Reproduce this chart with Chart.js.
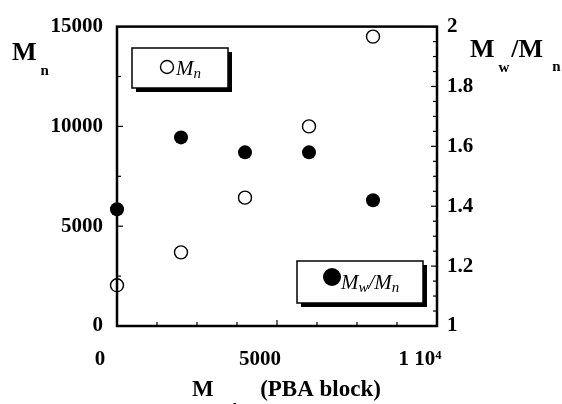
<!DOCTYPE html>
<html>
<head>
<meta charset="utf-8">
<script src="https://cdn.jsdelivr.net/npm/chart.js@4"></script>
<style>
  html, body { margin: 0; padding: 0; background: #fff; }
  #wrap { width: 562px; height: 404px; }
</style>
</head>
<body>
<div id="wrap"><canvas id="chart" width="562" height="404"></canvas></div>
<script>
// theoretical Mn of the PBA block (x axis)
const mnTheory = [0, 2000, 4000, 6000, 8000];
// measured Mn, left axis
const mnMeasured = [2040, 3690, 6430, 10000, 14500];
// Mw/Mn, right axis
const pdi = [1.39, 1.63, 1.58, 1.58, 1.42];

const xTickValues = [0, 5000, 10000];
const xTickLabels = ['0', '5000', '1 10\u2074'];
const yTickValues = [0, 5000, 10000, 15000];
const yTickLabels = ['0', '5000', '10000', '15000'];
const y1TickValues = [1, 1.2, 1.4, 1.6, 1.8, 2];
const y1TickLabels = ['1', '1.2', '1.4', '1.6', '1.8', '2'];

const SERIF = '"Liberation Serif", "Times New Roman", serif';
const tickFont = { family: SERIF, size: 21, weight: 'bold' };

function labelFor(values, labels, v) {
  const i = values.findIndex(t => Math.abs(t - v) < 1e-6);
  return i < 0 ? '' : labels[i];
}

// draw runs of text; each part: [text, font, dx, dy]
function drawParts(ctx, x, y, parts) {
  let cx = x;
  parts.forEach(p => {
    ctx.font = p[1];
    ctx.fillText(p[0], cx + (p[2] || 0), y + (p[3] || 0));
    cx += ctx.measureText(p[0]).width + (p[2] || 0);
  });
}

const framePlugin = {
  id: 'frame',
  beforeDatasetsDraw(chart) {
    const ctx = chart.ctx;
    const a = chart.chartArea;
    ctx.save();
    ctx.strokeStyle = '#000';
    ctx.lineWidth = 2.5;
    ctx.strokeRect(a.left, a.top, a.right - a.left, a.bottom - a.top);

    // inward tick marks
    ctx.lineWidth = 1.2;
    const sx = chart.scales.x, sy = chart.scales.y, sy1 = chart.scales.y1;
    sx.ticks.forEach(t => {
      const px = sx.getPixelForValue(t.value);
      const len = labelFor(xTickValues, xTickLabels, t.value) ? 6 : 4;
      ctx.beginPath(); ctx.moveTo(px, a.bottom); ctx.lineTo(px, a.bottom - len); ctx.stroke();
    });
    sy.ticks.forEach(t => {
      const py = sy.getPixelForValue(t.value);
      const len = labelFor(yTickValues, yTickLabels, t.value) ? 6 : 4;
      ctx.beginPath(); ctx.moveTo(a.left, py); ctx.lineTo(a.left + len, py); ctx.stroke();
    });
    sy1.ticks.forEach(t => {
      const py = sy1.getPixelForValue(t.value);
      const len = labelFor(y1TickValues, y1TickLabels, t.value) ? 6 : 4;
      ctx.beginPath(); ctx.moveTo(a.right, py); ctx.lineTo(a.right - len, py); ctx.stroke();
    });
    ctx.restore();
  },
  afterDraw(chart) {
    const ctx = chart.ctx;
    ctx.save();
    ctx.fillStyle = '#000';
    ctx.textBaseline = 'alphabetic';
    ctx.textAlign = 'left';

    // axis titles
    const big = 'bold 26px ' + SERIF, sub = 'bold 15px ' + SERIF;
    drawParts(ctx, 12, 60, [['M', big], ['n', sub, 4, 15]]);
    drawParts(ctx, 470, 57, [['M', big], ['w', sub, 4, 15], ['/M', big, 2], ['n', sub, 9, 14]]);
    const xt = 'bold 23px ' + SERIF;
    drawParts(ctx, 192, 396, [['M', xt], ['n,th', 'bold 15px ' + SERIF, 2, 17], ['(PBA block)', xt, 19]]);

    // legend boxes
    function box(x, y, w, h) {
      ctx.fillStyle = '#000';
      ctx.fillRect(x + 4, y + 4, w, h);
      ctx.fillStyle = '#fff';
      ctx.fillRect(x, y, w, h);
      ctx.strokeStyle = '#000';
      ctx.lineWidth = 1.5;
      ctx.strokeRect(x, y, w, h);
      ctx.fillStyle = '#000';
    }
    const it = 'italic 21px ' + SERIF, itSub = 'italic 15px ' + SERIF;

    box(132, 48, 96, 40);
    ctx.beginPath(); ctx.arc(167, 67, 6.5, 0, Math.PI * 2);
    ctx.lineWidth = 1.4; ctx.stroke();
    drawParts(ctx, 176, 75, [['M', it], ['n', itSub, 0, 3]]);

    box(297, 261, 126, 42);
    ctx.beginPath(); ctx.arc(332, 277, 9, 0, Math.PI * 2); ctx.fill();
    drawParts(ctx, 341, 289, [['M', it], ['w', itSub, 0, 3], ['/', it, 0, 0], ['M', it], ['n', itSub, 0, 3]]);
    ctx.restore();
  }
};

new Chart(document.getElementById('chart'), {
  type: 'scatter',
  data: {
    datasets: [
      {
        label: 'Mn',
        data: mnTheory.map((x, i) => ({ x: x, y: mnMeasured[i] })),
        yAxisID: 'y',
        pointRadius: 6.5,
        pointBackgroundColor: 'rgba(255,255,255,0)',
        pointBorderColor: '#000',
        pointBorderWidth: 1.4,
        clip: false
      },
      {
        label: 'Mw/Mn',
        data: mnTheory.map((x, i) => ({ x: x, y: pdi[i] })),
        yAxisID: 'y1',
        pointRadius: 7,
        pointBackgroundColor: '#000',
        pointBorderColor: '#000',
        pointBorderWidth: 0,
        clip: false
      }
    ]
  },
  options: {
    responsive: false,
    animation: false,
    devicePixelRatio: 1,
    layout: { padding: { top: 25, left: 0, right: 0, bottom: 0 } },
    plugins: { legend: { display: false }, tooltip: { enabled: false } },
    scales: {
      x: {
        type: 'linear', position: 'bottom', min: 0, max: 10000,
        grid: { display: false, drawTicks: false }, border: { display: false },
        ticks: {
          stepSize: 1250, autoSkip: false, maxRotation: 0, labelOffset: -17, padding: 21,
          color: '#000', font: tickFont,
          callback: v => labelFor(xTickValues, xTickLabels, v)
        },
        afterFit: s => { s.height = 78; }
      },
      y: {
        type: 'linear', position: 'left', min: 0, max: 15000,
        grid: { display: false, drawTicks: false }, border: { display: false },
        ticks: {
          stepSize: 2500, autoSkip: false, padding: 14, color: '#000', font: tickFont,
          callback: v => labelFor(yTickValues, yTickLabels, v)
        },
        afterFit: s => { s.width = 117; }
      },
      y1: {
        type: 'linear', position: 'right', min: 1, max: 2,
        grid: { display: false, drawTicks: false }, border: { display: false },
        ticks: {
          stepSize: 0.05, autoSkip: false, maxTicksLimit: 100, padding: 10, color: '#000', font: tickFont,
          callback: v => labelFor(y1TickValues, y1TickLabels, v)
        },
        afterFit: s => { s.width = 125; }
      }
    }
  },
  plugins: [framePlugin]
});
</script>
</body>
</html>
